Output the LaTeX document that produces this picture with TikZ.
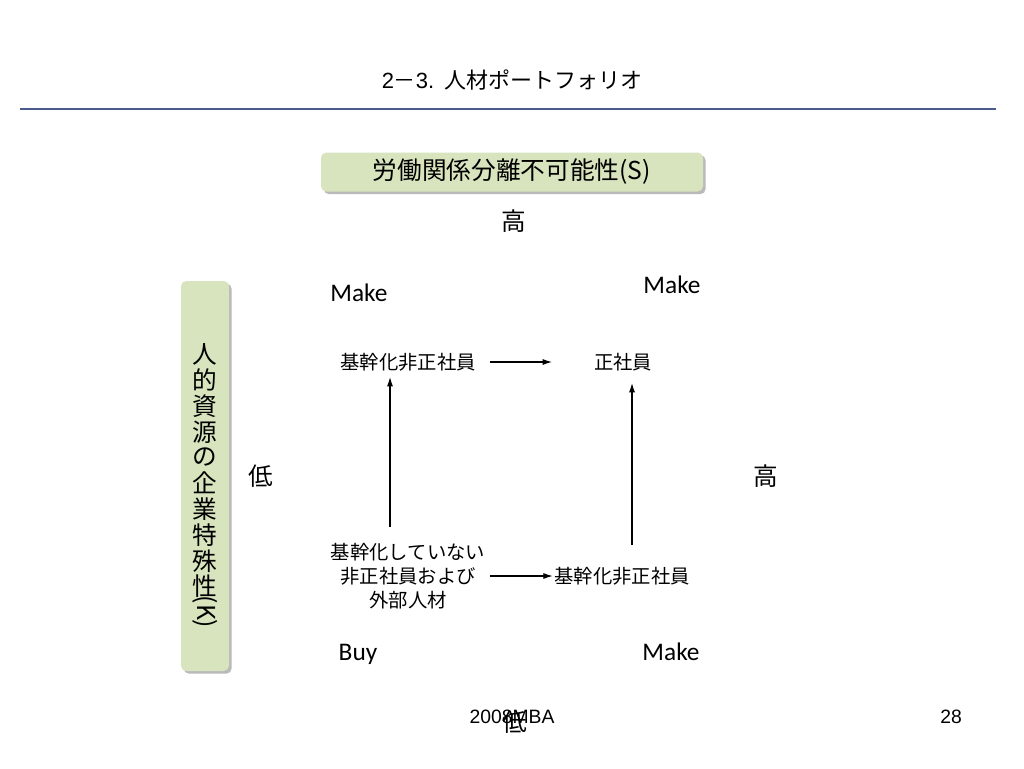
\documentclass[tikz,border=0pt]{standalone}
\usepackage{fontspec}
\newfontfamily\jpfont{Noto Sans CJK JP}
\newfontfamily\calfont{Carlito}
\newfontfamily\arifont{Liberation Sans}
\usetikzlibrary{arrows.meta,shadows}
\definecolor{boxgreen}{HTML}{D7E4BD}
\definecolor{rulecol}{HTML}{4A5A8A}
\begin{document}
\begin{tikzpicture}[x=0.75pt,y=-0.75pt,
  greenbox/.style={draw=none,fill=boxgreen,rounded corners=4pt,
    drop shadow={shadow xshift=2pt,shadow yshift=-2pt,fill=black!45,opacity=0.6}},
  jtext/.style={font=\jpfont\fontsize{14.5}{18}\selectfont,inner sep=1pt},
  axis/.style={font=\jpfont\fontsize{18.5}{20}\selectfont,inner sep=1pt},
  mk/.style={font=\calfont\fontsize{19}{21}\selectfont,inner sep=1pt},
  arr/.style={-{Latex[length=7pt,width=4.5pt]},line width=0.8pt},
  vchar/.style={font=\jpfont\fontsize{18.5}{20}\selectfont,inner sep=0pt}
]
\useasboundingbox (0,0) rectangle (1024,768);
\fill[white] (0,0) rectangle (1024,768);
% title
\node[font=\jpfont\fontsize{16.5}{18}\selectfont] (title) at (512,80) {{\arifont 2}－{\arifont 3.}\hspace{0.45em}人材ポートフォリオ};
\coordinate (rl) at (20,109);
\coordinate (rr) at (996,109);
\draw[rulecol,line width=0.9pt] (rl) -- (rr);
% top box
\node[greenbox,minimum width=382*0.75pt,minimum height=39*0.75pt,
  font=\jpfont\fontsize{18.5}{20}\selectfont] (sbox) at (512,172) {労働関係分離不可能性(S)};
\node[axis] (hightop) at (514,221) {高};
% left vertical box
\node[greenbox,minimum width=48*0.75pt,minimum height=390*0.75pt] (kbox) at (205,476) {};
\foreach \c/\y in {人/354,的/380,資/406,源/432,の/457,企/483,業/509,特/535,殊/561,性/586}{
  \node[vchar] at (205,\y) {\c};
}
\node[vchar,rotate=-90] (kk) at (205,612) {(K)};
\node[axis] (lowleft) at (261,476) {低};
\node[axis] (highright) at (766,476) {高};
\node[axis] (lowbot) at (515,722) {低};
% quadrant labels
\node[mk] (m1) at (359,293) {Make};
\node[mk] (m2) at (672,285) {Make};
\node[mk] (b1) at (358,654) {Buy};
\node[mk] (m3) at (671,652) {Make};
% content nodes
\node[jtext] (tl) at (408,362) {基幹化非正社員};
\node[jtext] (tr) at (623,362) {正社員};
\node[jtext,align=center,font=\jpfont\fontsize{14.5}{18}\selectfont] (bl) at (408,576) {基幹化していない\\非正社員および\\外部人材};
\node[jtext] (br) at (622,576) {基幹化非正社員};
% arrows
\coordinate (a1s) at (490,362);
\coordinate (a1e) at (552,362);
\draw[arr] (a1s) -- (a1e);
\coordinate (a2s) at (390,527);
\coordinate (a2e) at (390,377);
\draw[arr] (a2s) -- (a2e);
\coordinate (a3s) at (632,545);
\coordinate (a3e) at (632,383);
\draw[arr] (a3s) -- (a3e);
\coordinate (a4s) at (490,576);
\draw[arr] (a4s) -- (br.west);
% footer
\node[font=\arifont\fontsize{14.5}{16}\selectfont] (foot) at (512,717) {2008MBA};
\node[font=\arifont\fontsize{14.5}{16}\selectfont] (pg) at (951,717) {28};
\end{tikzpicture}
\end{document}
